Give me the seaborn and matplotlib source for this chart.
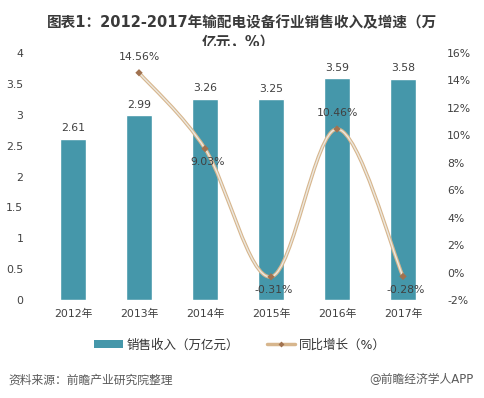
import numpy as np
import pandas as pd
import matplotlib
matplotlib.use('Agg')
import matplotlib.pyplot as plt
import seaborn as sns
from matplotlib.path import Path
from matplotlib.patches import PathPatch, Patch
from matplotlib.lines import Line2D
from matplotlib.transforms import Bbox, TransformedBbox

# 数据
years = ['2012年', '2013年', '2014年', '2015年', '2016年', '2017年']
revenue = [2.61, 2.99, 3.26, 3.25, 3.59, 3.58]
growth_years = [1, 2, 3, 4, 5]          # 2013-2017 对应的位置
growth = [14.56, 9.03, -0.31, 10.46, -0.28]
growth_offsets = [8, -6, -6, 8, -6]     # 标签在点上方/下方

bar_color = '#4597aa'
line_color = '#d7b68d'
text_color = '#404040'

sns.set_theme(style='white')
plt.rcParams['font.family'] = ['DejaVu Sans', 'Noto Sans CJK SC']

fig = plt.figure(figsize=(4.84, 3.98), dpi=100)
ax = fig.add_axes([40 / 484, 1 - 300 / 398, 396 / 484, 247 / 398])

df = pd.DataFrame({'year': years, 'revenue': revenue})
sns.barplot(data=df, x='year', y='revenue', color=bar_color, width=0.4,
            saturation=1, ax=ax, zorder=2)
ax.set_xlim(-0.5, 5.5)
ax.set_ylim(0, 4)
yt = np.arange(0, 4.01, 0.5)
ax.set_yticks(yt)
ax.set_yticklabels([f'{v:g}' for v in yt])
ax.set_xlabel('')
ax.set_ylabel('')
ax.tick_params(axis='both', length=0, labelsize=7.8, labelcolor='#404040')
ax.tick_params(axis='x', pad=6)
ax.tick_params(axis='y', pad=12)
for s in ax.spines.values():
    s.set_visible(False)

# 柱子数值
for i, v in enumerate(revenue):
    ax.annotate(f'{v:.2f}', (i, v), xytext=(0, 4), textcoords='offset points',
                ha='center', va='bottom', fontsize=7.8, color=text_color)

# 右轴：同比增长
ax2 = ax.twinx()
ax2.set_ylim(-2, 16)
rt = np.arange(-2, 16.1, 2)
ax2.set_yticks(rt)
ax2.set_yticklabels([f'{int(v)}%' for v in rt])
ax2.tick_params(axis='y', length=0, labelsize=7.8, labelcolor='#404040', pad=8)
for s in ax2.spines.values():
    s.set_visible(False)
ax2.grid(False)

# 平滑曲线（类似 Excel 平滑线）
pts = np.column_stack([growth_years, growth]).astype(float)
ext = np.vstack([pts[0], pts, pts[-1]])
verts = [tuple(pts[0])]
codes = [Path.MOVETO]
for k in range(len(pts) - 1):
    p0, p1, p2, p3 = ext[k], ext[k + 1], ext[k + 2], ext[k + 3]
    c1 = p1 + (p2 - p0) / 6
    c2 = p2 - (p3 - p1) / 6
    verts += [tuple(c1), tuple(c2), tuple(p2)]
    codes += [Path.CURVE4] * 3
curve = Path(verts, codes)
ax2.add_patch(PathPatch(curve, facecolor='none', edgecolor=line_color, lw=2.6, zorder=3))
ax2.add_patch(PathPatch(curve, facecolor='none', edgecolor='#ece8e0', lw=1.0, zorder=4))
sns.scatterplot(x=growth_years, y=growth, marker='D', s=14, color='#a07250',
                edgecolor='none', ax=ax2, zorder=5)

for x, v, off in zip(growth_years, growth, growth_offsets):
    ax2.annotate(f'{v:.2f}%', (x, v), xytext=(2 if off < 0 else 0, off),
                 textcoords='offset points', ha='center',
                 va='bottom' if off > 0 else 'top', fontsize=7.8, color=text_color,
                 zorder=6)

# 标题（第二行下半部被图区遮住）
fig.text(0.5, 1 - 23 / 398, '图表1：2012-2017年输配电设备行业销售收入及增速（万',
         ha='center', va='center', fontsize=10.5, fontweight='bold', color='#3a3a3a')
t2 = fig.text(238 / 484, 1 - 43 / 398, '亿元，%）', ha='center', va='center',
              fontsize=10.5, fontweight='bold', color='#3a3a3a')
t2.set_clip_box(TransformedBbox(Bbox([[0, 1 - 45.5 / 398], [1, 1]]), fig.transFigure))
t2.set_clip_on(True)

# 图例
handles = [Patch(facecolor=bar_color, edgecolor='none'),
           Line2D([0], [0], color=line_color, lw=2.5, marker='D', markersize=3,
                  markerfacecolor='#a07250', markeredgecolor='none')]
fig.legend(handles, ['销售收入（万亿元）', '同比增长（%）'], loc='center',
           bbox_to_anchor=(240 / 484, 1 - 345 / 398), ncol=2, frameon=False,
           fontsize=9, handlelength=2.3, handleheight=0.55, columnspacing=2.2,
           handletextpad=0.3, labelcolor='#333333')

# 来源
fig.text(8 / 484, 1 - 380 / 398, '资料来源：前瞻产业研究院整理', ha='left', va='center',
         fontsize=8.5, color='#595959', style='italic')
fig.text(474 / 484, 1 - 380 / 398, '@前瞻经济学人APP', ha='right', va='center',
         fontsize=8.5, color='#595959')

fig.savefig('out.png', dpi=100)
